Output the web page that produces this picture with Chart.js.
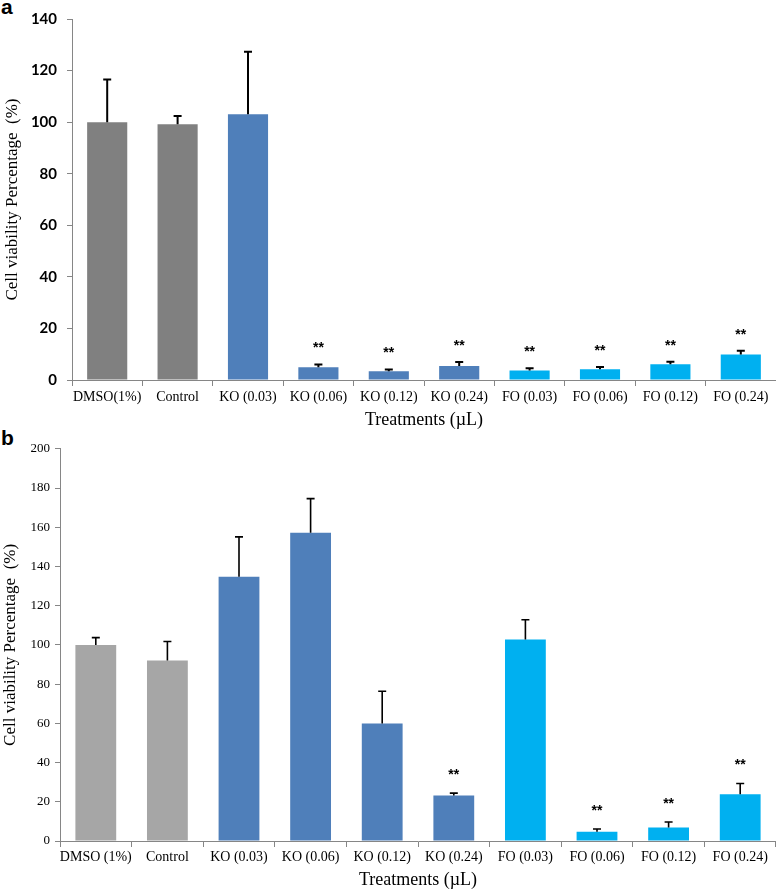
<!DOCTYPE html>
<html>
<head>
<meta charset="utf-8">
<script src="https://cdn.jsdelivr.net/npm/chart.js@4/dist/chart.umd.min.js"></script>
<style>
  body { margin: 0; background: #fff; width: 776px; height: 891px; position: relative; overflow: hidden; }
  canvas { position: absolute; left: 0; }
  #chartA { top: 0; }
  #chartB { top: 436px; }
  .panel { position: absolute; left: 1px; font: bold 21px "Liberation Sans", Arial, sans-serif; color: #000; }
</style>
</head>
<body>
<div class="panel" style="top:-5px">a</div>
<div class="panel" style="top:426px">b</div>
<canvas id="chartA" width="776" height="436"></canvas>
<canvas id="chartB" width="776" height="455"></canvas>
<script>
// Panel a data
const categoriesA = ["DMSO(1%)", "Control", "KO (0.03)", "KO (0.06)", "KO (0.12)", "KO (0.24)", "FO (0.03)", "FO (0.06)", "FO (0.12)", "FO (0.24)"];
const viabilityA = [100, 99.2, 103.1, 4.9, 3.4, 5.4, 3.7, 4.2, 6.1, 9.9];
const errorA = [16.5, 3.2, 24.2, 1.1, 0.7, 1.6, 0.9, 0.8, 1.0, 1.4];
const starsA = ["", "", "", "**", "**", "**", "**", "**", "**", "**"];
const ticksA = [0, 20, 40, 60, 80, 100, 120, 140];

// Panel b data
const categoriesB = ["DMSO (1%)", "Control", "KO (0.03)", "KO (0.06)", "KO (0.12)", "KO (0.24)", "FO (0.03)", "FO (0.06)", "FO (0.12)", "FO (0.24)"];
const viabilityB = [100, 92, 134.8, 157.2, 59.9, 23.2, 102.7, 4.7, 6.9, 23.9];
const errorB = [3.7, 9.7, 20.3, 17.4, 16.5, 1.2, 10.1, 1.4, 2.8, 5.4];
const starsB = ["", "", "", "", "", "**", "", "**", "**", "**"];
const ticksB = [0, 20, 40, 60, 80, 100, 120, 140, 160, 180, 200];

const GRAY_A = "#808080", GRAY_B = "#a6a6a6", KO = "#4f7fba", FO = "#00b0f0";
const colorsA = [GRAY_A, GRAY_A, KO, KO, KO, KO, FO, FO, FO, FO];
const colorsB = [GRAY_B, GRAY_B, KO, KO, KO, KO, FO, FO, FO, FO];
const AXIS = "#868686";

// one-sided error bars plus significance stars
const errorBarPlugin = {
  id: "errorBars",
  afterDatasetsDraw(chart, args, opts) {
    const ctx = chart.ctx;
    const y = chart.scales.y;
    const meta = chart.getDatasetMeta(0);
    ctx.save();
    ctx.strokeStyle = "#000";
    ctx.lineWidth = opts.lineWidth;
    opts.values.forEach((v, i) => {
      const bx = meta.data[i].x;
      const yVal = y.getPixelForValue(v);
      const yTop = y.getPixelForValue(v + opts.errors[i]);
      ctx.beginPath();
      ctx.moveTo(bx, yVal);
      ctx.lineTo(bx, yTop);
      ctx.moveTo(bx - opts.cap, yTop);
      ctx.lineTo(bx + opts.cap, yTop);
      ctx.stroke();
      if (opts.stars[i]) {
        ctx.fillStyle = "#000";
        ctx.font = "bold 14px 'Liberation Sans', Arial, sans-serif";
        ctx.textAlign = "center";
        ctx.textBaseline = "middle";
        ctx.fillText(opts.stars[i], bx, yTop - opts.starGap);
      }
    });
    ctx.restore();
  }
};

function makeChart(id, cfg) {
  return new Chart(document.getElementById(id), {
    type: "bar",
    data: {
      labels: cfg.labels,
      datasets: [{
        data: cfg.values,
        backgroundColor: cfg.colors,
        barPercentage: 0.57,
        categoryPercentage: 1
      }]
    },
    options: {
      responsive: false,
      animation: false,
      devicePixelRatio: 1,
      layout: { padding: { top: cfg.top, right: 0, left: 0, bottom: 0 } },
      plugins: {
        legend: { display: false },
        tooltip: { enabled: false },
        errorBars: { values: cfg.values, errors: cfg.errors, stars: cfg.stars, lineWidth: cfg.errWidth, cap: 4, starGap: cfg.starGap }
      },
      scales: {
        x: {
          ticks: { color: "#000", font: { family: "Liberation Serif", size: 14 }, padding: cfg.xPad, autoSkip: false, maxRotation: 0 },
          grid: { drawOnChartArea: false, tickLength: 6, color: AXIS, offset: true },
          border: { color: AXIS },
          title: { display: true, text: "Treatments (µL)", color: "#000", font: { family: "Liberation Serif", size: 18 }, padding: { top: 0, bottom: cfg.xTitlePad } },
          afterFit(s) { s.height = cfg.xHeight; }
        },
        y: {
          min: cfg.ticks[0],
          max: cfg.ticks[cfg.ticks.length - 1],
          afterBuildTicks(s) { s.ticks = cfg.ticks.map(v => ({ value: v })); },
          ticks: { color: "#000", font: cfg.yFont, padding: cfg.yPad },
          grid: { drawOnChartArea: false, tickLength: 5, color: AXIS },
          border: { color: AXIS },
          title: { display: true, text: "Cell viability Percentage  (%)", color: "#000", font: { family: "Liberation Serif", size: 17 }, padding: { top: cfg.yTitlePad, bottom: 0 } },
          afterFit(s) { s.width = cfg.yWidth; }
        }
      }
    },
    plugins: [errorBarPlugin]
  });
}

const chartA = makeChart("chartA", {
  labels: categoriesA, values: viabilityA, errors: errorA, stars: starsA, colors: colorsA, ticks: ticksA,
  top: 16, xHeight: 56, xPad: 3, xTitlePad: 5, yWidth: 72, yPad: 10, yTitlePad: 2,
  yFont: { family: "Lato", weight: "bold", size: 15 }, errWidth: 2, starGap: 16
});

const chartB = makeChart("chartB", {
  labels: categoriesB, values: viabilityB, errors: errorB, stars: starsB, colors: colorsB, ticks: ticksB,
  top: 11, xHeight: 50, xPad: 2, xTitlePad: 0, yWidth: 60, yPad: 5, yTitlePad: 0,
  yFont: { family: "Liberation Serif", size: 13 }, errWidth: 1.6, starGap: 18
});
</script>
</body>
</html>
